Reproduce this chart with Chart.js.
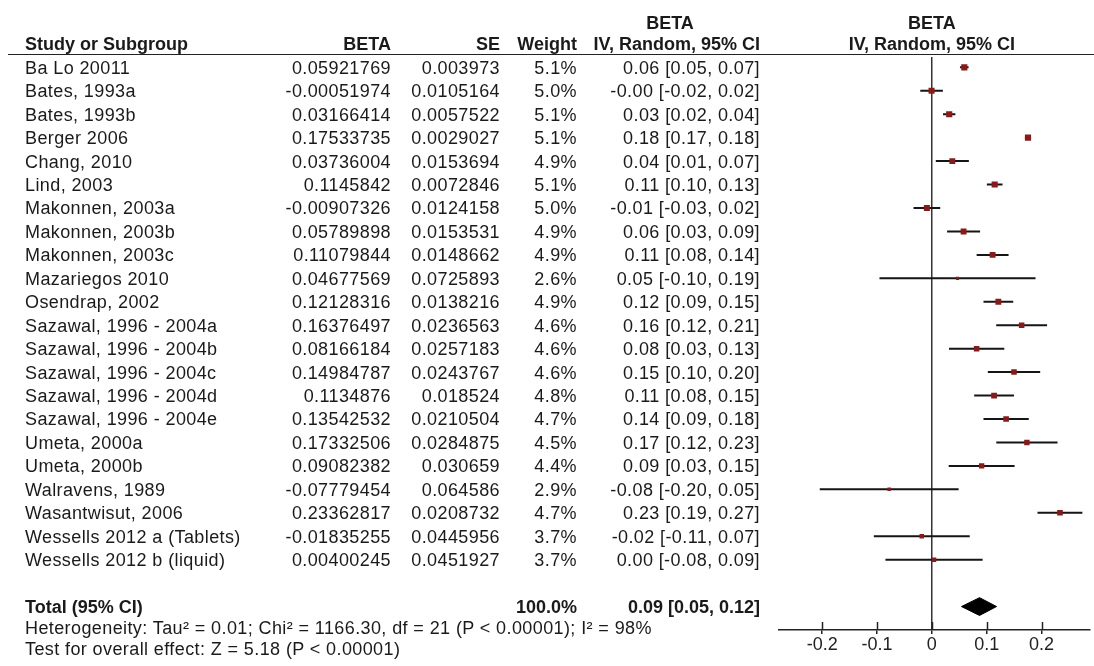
<!DOCTYPE html>
<html>
<head>
<meta charset="utf-8">
<script src="https://cdn.jsdelivr.net/npm/chart.js@4.4.1/dist/chart.umd.min.js"></script>
<style>
html,body{margin:0;padding:0;background:#fff;}
#wrap{position:relative;width:1094px;height:666px;overflow:hidden;font-family:"Liberation Sans",Arial,sans-serif;color:#1a1a1a;}
#c{position:absolute;left:0;top:0;}
.t{position:absolute;font-size:18px;line-height:20px;white-space:nowrap;letter-spacing:0.4px;}
.b{font-weight:bold;letter-spacing:0;}
#hline{position:absolute;left:8px;right:0;top:54px;height:0;border-top:1.5px solid #222;}
</style>
</head>
<body>
<div id="wrap">
<canvas id="c" width="1094" height="666"></canvas>
<div id="hline"></div>
</div>
<script>
// ---------------- data ----------------
const studies = [
  "Ba Lo 20011", "Bates, 1993a", "Bates, 1993b", "Berger 2006", "Chang, 2010",
  "Lind, 2003", "Makonnen, 2003a", "Makonnen, 2003b", "Makonnen, 2003c", "Mazariegos 2010",
  "Osendrap, 2002", "Sazawal, 1996 - 2004a", "Sazawal, 1996 - 2004b", "Sazawal, 1996 - 2004c",
  "Sazawal, 1996 - 2004d", "Sazawal, 1996 - 2004e", "Umeta, 2000a", "Umeta, 2000b",
  "Walravens, 1989", "Wasantwisut, 2006", "Wessells 2012 a (Tablets)", "Wessells 2012 b (liquid)"
];
const beta = [
  0.05921769, -0.00051974, 0.03166414, 0.17533735, 0.03736004,
  0.1145842, -0.00907326, 0.05789898, 0.11079844, 0.04677569,
  0.12128316, 0.16376497, 0.08166184, 0.14984787,
  0.1134876, 0.13542532, 0.17332506, 0.09082382,
  -0.07779454, 0.23362817, -0.01835255, 0.00400245
];
const se = [
  0.003973, 0.0105164, 0.0057522, 0.0029027, 0.0153694,
  0.0072846, 0.0124158, 0.0153531, 0.0148662, 0.0725893,
  0.0138216, 0.0236563, 0.0257183, 0.0243767,
  0.018524, 0.0210504, 0.0284875, 0.030659,
  0.064586, 0.0208732, 0.0445956, 0.0451927
];
const weight = [
  5.1, 5.0, 5.1, 5.1, 4.9,
  5.1, 5.0, 4.9, 4.9, 2.6,
  4.9, 4.6, 4.6, 4.6,
  4.8, 4.7, 4.5, 4.4,
  2.9, 4.7, 3.7, 3.7
];
const ciLow = [
  0.0514, -0.0211, 0.0204, 0.1697, 0.0072,
  0.1003, -0.0334, 0.0278, 0.0817, -0.0955,
  0.0942, 0.1174, 0.0313, 0.1021,
  0.0772, 0.0942, 0.1175, 0.0307,
  -0.2044, 0.1927, -0.1058, -0.0846
];
const ciHigh = [
  0.0670, 0.0201, 0.0429, 0.1810, 0.0675,
  0.1289, 0.0153, 0.0880, 0.1399, 0.1891,
  0.1484, 0.2101, 0.1321, 0.1976,
  0.1498, 0.1767, 0.2292, 0.1509,
  0.0488, 0.2745, 0.0691, 0.0926
];
const totalLabel = "Total (95% CI)";
const totalWeight = [100.0];
const totalEst = [0.087];
const totalLow = [0.054];
const totalHigh = [0.118];
const xTicks = [-0.2, -0.1, 0, 0.1, 0.2];
const heterogeneityText = "Heterogeneity: Tau\u00B2 = 0.01; Chi\u00B2 = 1166.30, df = 21 (P < 0.00001); I\u00B2 = 98%";
const overallText = "Test for overall effect: Z = 5.18 (P < 0.00001)";

// ---------------- layout / style constants ----------------
const TOTAL_ROW = studies.length + 1;   // one blank row before total
const AXIS_ROW = studies.length + 2;
const DIAMOND_HALF = 0.38;              // half height of diamond in row units
const MARKER_SCALE = 0.85;
const MARKER_COLOR = '#8a1a1a';
const LINE_COLOR = '#151515';

const datasets = [];
datasets.push({
  type: 'scatter',
  order: 0,
  data: beta.map((b, i) => ({x: b, y: i})),
  pointStyle: 'rect',
  pointRadius: (ctx) => weight[ctx.dataIndex] * MARKER_SCALE,
  backgroundColor: MARKER_COLOR,
  borderColor: MARKER_COLOR,
  borderWidth: 0
});
studies.forEach((s, i) => {
  datasets.push({
    type: 'line',
    order: 2,
    data: [{x: ciLow[i], y: i}, {x: ciHigh[i], y: i}],
    borderColor: LINE_COLOR,
    borderWidth: 2,
    pointRadius: 0,
    tension: 0,
    fill: false
  });
});
datasets.push({
  type: 'line',
  order: 1,
  data: [
    {x: totalLow[0], y: TOTAL_ROW},
    {x: totalEst[0], y: TOTAL_ROW - DIAMOND_HALF},
    {x: totalHigh[0], y: TOTAL_ROW},
    {x: totalEst[0], y: TOTAL_ROW + DIAMOND_HALF},
    {x: totalLow[0], y: TOTAL_ROW}
  ],
  borderColor: '#000',
  backgroundColor: '#000',
  borderWidth: 1,
  pointRadius: 0,
  tension: 0,
  fill: 'shape'
});

const crossTicks = {
  id: 'crossTicks',
  afterDraw(chart) {
    const sx = chart.scales.x;
    const ctx = chart.ctx;
    const bottom = chart.chartArea.bottom;
    ctx.save();
    ctx.strokeStyle = '#222';
    ctx.lineWidth = 1.5;
    xTicks.forEach(v => {
      const px = Math.round(sx.getPixelForValue(v)) + 0.5;
      ctx.beginPath();
      ctx.moveTo(px, bottom - 8);
      ctx.lineTo(px, bottom);
      ctx.stroke();
    });
    ctx.restore();
  }
};

const chart = new Chart(document.getElementById('c'), {
  type: 'scatter',
  data: {datasets},
  plugins: [crossTicks],
  options: {
    responsive: false,
    animation: false,
    events: [],
    layout: {padding: {left: 778.3, right: 0, top: 57, bottom: 0}},
    plugins: {legend: {display: false}, tooltip: {enabled: false}},
    scales: {
      x: {
        type: 'linear',
        min: -0.28,
        max: 0.2878,
        afterBuildTicks: (scale) => { scale.ticks = xTicks.map(v => ({value: v})); },
        afterFit: (scale) => { scale.height = 36; },
        border: {display: true, color: '#222', width: 1.5},
        grid: {
          drawOnChartArea: true,
          drawTicks: true,
          tickLength: 4,
          tickColor: '#222',
          lineWidth: 1.5,
          color: (ctx) => (ctx.tick && ctx.tick.value === 0) ? '#333' : 'rgba(0,0,0,0)'
        },
        ticks: {
          padding: 0,
          color: '#222',
          font: {family: '"Liberation Sans", Arial, sans-serif', size: 18},
          callback: (v) => String(Math.round(v * 10) / 10)
        }
      },
      y: {
        type: 'linear',
        display: false,
        reverse: true,
        min: -0.44,
        max: AXIS_ROW
      }
    }
  }
});

// ---------------- text (HTML) placed by the chart's y scale ----------------
const wrap = document.getElementById('wrap');
const W = 1094;
const CAP_OFF = 10;
function addText(txt, yc, opts) {
  const d = document.createElement('div');
  d.className = 't' + (opts.bold ? ' b' : '');
  d.textContent = txt;
  d.style.top = (yc - CAP_OFF) + 'px';
  if (opts.left !== undefined) d.style.left = opts.left + 'px';
  if (opts.right !== undefined) { d.style.right = (W - opts.right) + 'px'; d.style.textAlign = 'right'; }
  if (opts.center !== undefined) { d.style.left = (opts.center - 200) + 'px'; d.style.width = '400px'; d.style.textAlign = 'center'; }
  wrap.appendChild(d);
}
const COL_STUDY = 25, COL_BETA = 391, COL_SE = 500, COL_W = 577, COL_CI = 760;
const HEAD1 = 22.5, HEAD2 = 44;
addText('BETA', HEAD1, {center: 670, bold: true});
addText('BETA', HEAD1, {center: chart.scales.x.getPixelForValue(0), bold: true});
addText('Study or Subgroup', HEAD2, {left: COL_STUDY, bold: true});
addText('BETA', HEAD2, {right: COL_BETA, bold: true});
addText('SE', HEAD2, {right: COL_SE, bold: true});
addText('Weight', HEAD2, {right: COL_W, bold: true});
addText('IV, Random, 95% CI', HEAD2, {right: COL_CI, bold: true});
addText('IV, Random, 95% CI', HEAD2, {center: chart.scales.x.getPixelForValue(0), bold: true});

const fmtCI = (e, l, h) => e.toFixed(2) + ' [' + l.toFixed(2) + ', ' + h.toFixed(2) + ']';
const ys = chart.scales.y;
studies.forEach((s, i) => {
  const yc = ys.getPixelForValue(i) + 0.5;
  addText(s, yc, {left: COL_STUDY});
  addText(String(beta[i]), yc, {right: COL_BETA});
  addText(String(se[i]), yc, {right: COL_SE});
  addText(weight[i].toFixed(1) + '%', yc, {right: COL_W});
  addText(fmtCI(beta[i], ciLow[i], ciHigh[i]), yc, {right: COL_CI});
});
const yt = ys.getPixelForValue(TOTAL_ROW) + 0.5;
addText(totalLabel, yt, {left: COL_STUDY, bold: true});
addText(totalWeight[0].toFixed(1) + '%', yt, {right: COL_W, bold: true});
addText(fmtCI(totalEst[0], totalLow[0], totalHigh[0]), yt, {right: COL_CI, bold: true});
addText(heterogeneityText, yt + 21, {left: COL_STUDY});
addText(overallText, yt + 42, {left: COL_STUDY});
</script>
</body>
</html>
